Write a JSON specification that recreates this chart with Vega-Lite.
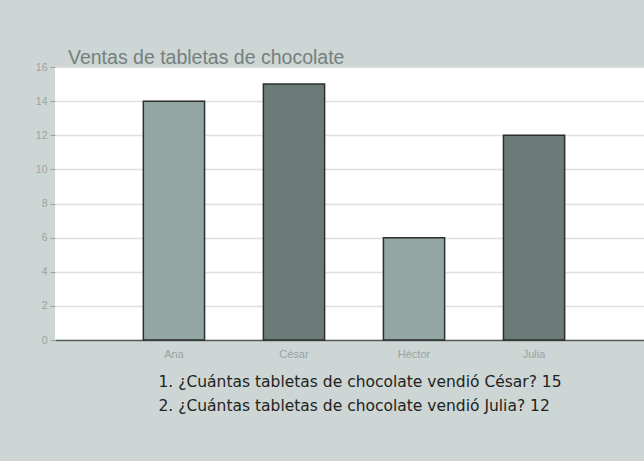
{
  "$schema": "https://vega.github.io/schema/vega-lite/v6.json",
  "autosize": {"type": "none"},
  "padding": {"left": 55, "top": 67, "right": 0, "bottom": 121},
  "width": 598,
  "height": 273,
  "background": "#cdd6d4",
  "config": {
    "view": {"fill": "white", "stroke": null},
    "font": "Liberation Sans"
  },
  "title": {
    "text": "Ventas de tabletas de chocolate",
    "anchor": "start",
    "frame": "group",
    "dx": 13,
    "dy": 23,
    "offset": 2,
    "baseline": "alphabetic",
    "fontSize": 19.5,
    "fontWeight": "normal",
    "color": "#75807e",
    "font": "Liberation Sans"
  },
  "data": {
    "values": [
      {"nombre": "Ana", "tabletas": 14},
      {"nombre": "César", "tabletas": 15},
      {"nombre": "Héctor", "tabletas": 6},
      {"nombre": "Julia", "tabletas": 12}
    ]
  },
  "mark": {"type": "bar", "stroke": "#2b2f2e", "strokeWidth": 1.5},
  "encoding": {
    "x": {
      "field": "nombre",
      "type": "nominal",
      "sort": null,
      "scale": {"paddingInner": 0.49, "paddingOuter": 0.736},
      "axis": {
        "labelAngle": 0,
        "ticks": false,
        "domainColor": "#555b5a",
        "domainWidth": 1.5,
        "labelColor": "#9aa3a1",
        "labelFontSize": 11,
        "labelPadding": 8,
        "title": ["1. ¿Cuántas tabletas de chocolate vendió César? 15", "2. ¿Cuántas tabletas de chocolate vendió Julia? 12"],
        "titleAnchor": "start",
        "titleAlign": "left",
        "titleBaseline": "alphabetic",
        "titleX": 103,
        "titleY": 46,
        "titleLineHeight": 24,
        "titleFontSize": 15.5,
        "titleFontWeight": "normal",
        "titleColor": "#222222",
        "titleFont": "DejaVu Sans"
      }
    },
    "y": {
      "field": "tabletas",
      "type": "quantitative",
      "scale": {"domain": [0, 16], "nice": false},
      "axis": {
        "values": [0, 2, 4, 6, 8, 10, 12, 14, 16],
        "title": null,
        "domain": false,
        "gridColor": "#e0e0e0",
        "gridWidth": 1.5,
        "tickColor": "#9aa3a1",
        "tickSize": 5,
        "labelColor": "#9aa3a1",
        "labelFontSize": 10.5,
        "labelPadding": 3
      }
    },
    "color": {
      "field": "nombre",
      "type": "nominal",
      "scale": {"domain": ["Ana", "César", "Héctor", "Julia"], "range": ["#94a6a3", "#6c7b78", "#94a6a3", "#6c7b78"]},
      "legend": null
    }
  }
}
